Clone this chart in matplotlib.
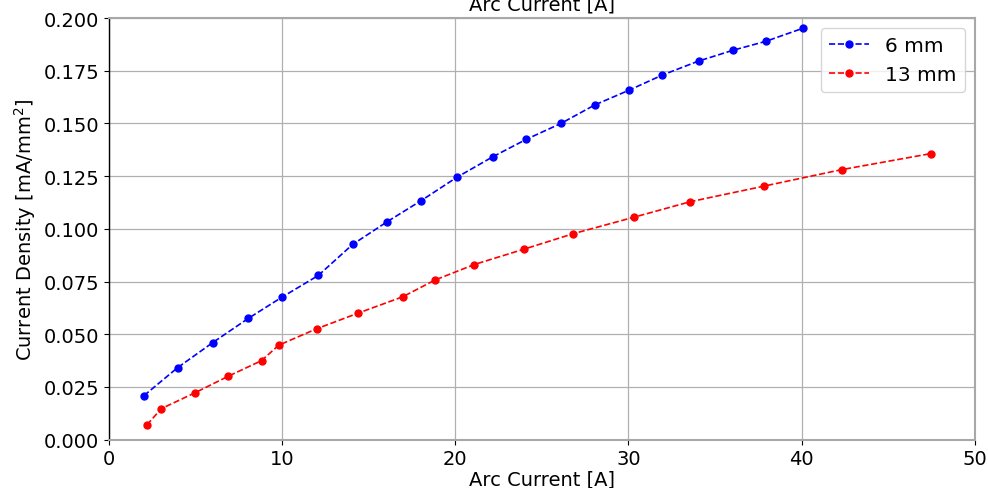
import matplotlib
matplotlib.use("Agg")
from matplotlib import pyplot as plt

# 6 mm electrode
current_6 = [2.02, 3.97, 6.0, 8.04, 9.97, 12.09, 14.07, 16.07, 18.03, 20.1,
             22.19, 24.11, 26.1, 28.06, 30.04, 31.97, 34.05, 36.07, 37.95, 40.09]
density_6 = [0.0209, 0.0342, 0.0461, 0.0575, 0.0675, 0.0779, 0.0926, 0.1034, 0.1134, 0.1245,
             0.1343, 0.1425, 0.150, 0.1588, 0.1658, 0.173, 0.1796, 0.1848, 0.189, 0.1952]

# 13 mm electrode
current_13 = [2.19, 3.02, 4.98, 6.89, 8.81, 9.80, 11.99, 14.38, 16.97, 18.82,
              21.1, 23.98, 26.81, 30.35, 33.58, 37.84, 42.32, 47.46]
density_13 = [0.0070, 0.0147, 0.0223, 0.0301, 0.0375, 0.0448, 0.0526, 0.0600, 0.0678, 0.0757,
              0.0831, 0.0904, 0.0977, 0.1056, 0.1129, 0.1203, 0.1281, 0.1357]

fig = plt.figure(figsize=(9.88, 4.89), dpi=100)
ax = fig.add_axes([0.1103, 0.0988, 0.8762, 0.8622])

ax.plot(current_6, density_6, 'o--', color='blue', markersize=5, linewidth=1.2, label='6 mm')
ax.plot(current_13, density_13, 'o--', color='red', markersize=5, linewidth=1.2, label='13 mm')

ax.set_xlim(0, 50)
ax.set_ylim(0, 0.2)
ax.set_yticks([0.0, 0.025, 0.05, 0.075, 0.1, 0.125, 0.15, 0.175, 0.2])
ax.yaxis.set_major_formatter(matplotlib.ticker.FormatStrFormatter('%.3f'))
ax.grid(True, color='#b0b0b0', linewidth=0.9)
ax.tick_params(labelsize=14)

for side in ['top', 'right', 'bottom']:
    ax.spines[side].set_color('#a8a8a8')
    ax.spines[side].set_linewidth(1.5)
ax.spines['left'].set_color('black')
ax.spines['left'].set_linewidth(1.0)

ax.set_xlabel('Arc Current [A]', fontsize=14, labelpad=1)
ax.set_ylabel('Current Density [mA/mm$^2$]', fontsize=14)
ax.set_title('Arc Current [A]', fontsize=14)
ax.legend(loc='upper right', fontsize=14.5)

fig.savefig('out.png', dpi=100)
